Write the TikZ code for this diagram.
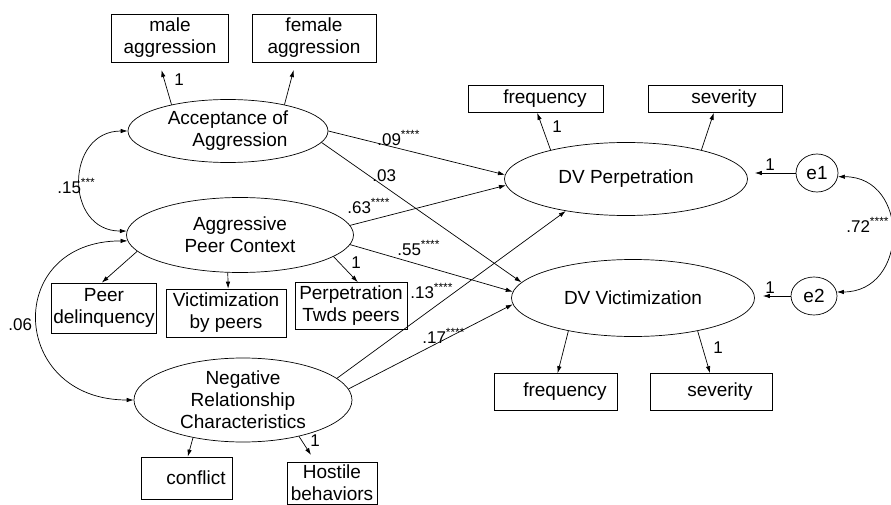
\documentclass[tikz,border=0pt]{standalone}
\usepackage{fontspec}
\setmainfont{Liberation Sans}
\usetikzlibrary{shapes.geometric,arrows.meta}
\tikzset{>={Latex[length=7pt,width=4.5pt]}}
\newcommand{\nodefont}{\fontsize{19}{22}\selectfont}
\newcommand{\coeffont}{\fontsize{17}{20}\selectfont}
\newcommand{\sig}[1]{\textsuperscript{#1}}
\tikzset{
  lat/.style={draw,ellipse,inner sep=0pt,align=center,font=\nodefont},
  obs/.style={draw,rectangle,inner sep=1.5pt,align=center,font=\nodefont},
  pad/.style={execute at begin node={\hspace*{18pt}}},
  coef/.style={font=\coeffont,inner sep=1pt},
}

\begin{document}
\begin{tikzpicture}[x=1pt,y=-1pt,line width=0.7pt]
  \useasboundingbox (0,0) rectangle (891,505);
  % latent variables
  \node[lat,minimum width=200pt,minimum height=63pt] (acc) at (228,131) {Acceptance of\\\hspace*{24pt}Aggression};
  \node[lat,minimum width=227pt,minimum height=75pt] (apc) at (240,235) {Aggressive\\Peer Context};
  \node[lat,minimum width=218pt,minimum height=84pt] (nrc) at (243,400) {Negative\\Relationship\\Characteristics};
  \node[lat,minimum width=243pt,minimum height=73pt] (dvp) at (626,179) {DV Perpetration};
  \node[lat,minimum width=243pt,minimum height=77pt] (dvv) at (633,298) {DV Victimization};
  \node[lat,minimum width=42pt,minimum height=38pt] (e1) at (817,173) {e1};
  \node[lat,minimum width=46pt,minimum height=38pt] (e2) at (814,296) {e2};
  % indicators
  \node[obs,minimum width=117pt,minimum height=48pt] (male) at (170,38) {male\\aggression};
  \node[obs,minimum width=124pt,minimum height=48pt] (female) at (314,38) {female\\aggression};
  \node[obs,pad,minimum width=135pt,minimum height=27pt] (freqp) at (536,99) {frequency};
  \node[obs,pad,minimum width=134pt,minimum height=27pt] (sevp) at (715,99) {severity};
  \node[obs,minimum width=103pt,minimum height=50pt] (peerd) at (104,308) {Peer\\delinquency};
  \node[obs,minimum width=120pt,minimum height=48pt] (victp) at (226,313) {Victimization\\by peers};
  \node[obs,minimum width=112pt,minimum height=47pt] (perpp) at (351,306) {Perpetration\\Twds peers};
  \node[obs,pad,minimum width=91pt,minimum height=42pt] (confl) at (187,478) {conflict};
  \node[obs,inner sep=0pt,minimum width=90pt,minimum height=42pt] (hostile) at (332,483) {Hostile\\behaviors};
  \node[obs,pad,minimum width=123pt,minimum height=37pt] (freqv) at (556,392) {frequency};
  \node[obs,pad,minimum width=122pt,minimum height=37pt] (sevv) at (711,392) {severity};

  % measurement paths
  \draw[->,shorten >=8pt] (acc.155) -- (male.-114);
  \draw[->,shorten >=8pt] (acc.25) -- (female.-127);
  \draw[->] (dvp.159) -- (freqp.-85);
  \draw[->] (dvp.21) -- (sevp.-95);
  \draw[->] (apc.189) -- (peerd.95);
  \draw[->] (apc.252) -- (victp.85);
  \draw[->] (apc.-13) -- (perpp.74);
  \draw[->] (nrc.217) -- (confl.88);
  \draw[->,shorten >=8pt] (nrc.-33) -- (hostile.128);
  \draw[->] (dvv.207) -- (freqv.85);
  \draw[->] (dvv.-27) -- (sevv.93);
  \draw[->,shorten >=7pt] (e1.west) -- (e1.west -| dvp.east);
  \draw[->,shorten >=8pt] (e2.west) -- (e2.west -| dvv.east);

  % structural paths
  \draw[->] (acc.east) -- (dvp.178);
  \draw[->] (acc.-7) -- (dvv.172);
  \draw[->] (apc.5) -- (dvp.183);
  \draw[->] (apc.-5) -- (dvv.177);
  \draw[->] (nrc.13) -- (dvp.208);
  \draw[->] (nrc.6) -- (dvv.183);

  % covariances
  \draw[<->] (acc.west) to[out=180,in=180,looseness=1.6] (apc.178);
  \draw[<->] (apc.183) to[out=180,in=180,looseness=2] (nrc.west);
  \draw[<->] (e1.-10) to[out=0,in=0,looseness=1.6] (e2.10);

  % estimates
  \node[coef] (k1) at (179,80) {1};
  \node[coef] (k2) at (557,127) {1};
  \node[coef] (k3) at (356,263) {1};
  \node[coef] (k4) at (315,441) {1};
  \node[coef] (k5) at (718,348) {1};
  \node[coef] (k6) at (770,165) {1};
  \node[coef] (k7) at (770,288) {1};
  \node[coef,anchor=west] (b1) at (376,138) {.09\sig{****}};
  \node[coef,anchor=west] (b2) at (371,176) {.03};
  \node[coef,anchor=west] (b3) at (346,206) {.63\sig{****}};
  \node[coef,anchor=west] (b4) at (396,248) {.55\sig{****}};
  \node[coef,anchor=west] (b5) at (409,291) {.13\sig{****}};
  \node[coef,anchor=west] (b6) at (421,336) {.17\sig{****}};
  \node[coef,anchor=west] (r1) at (56,186) {.15\sig{***}};
  \node[coef,anchor=west] (r2) at (7,325) {.06};
  \node[coef,anchor=west] (r3) at (845,225) {.72\sig{****}};
\end{tikzpicture}
\end{document}
